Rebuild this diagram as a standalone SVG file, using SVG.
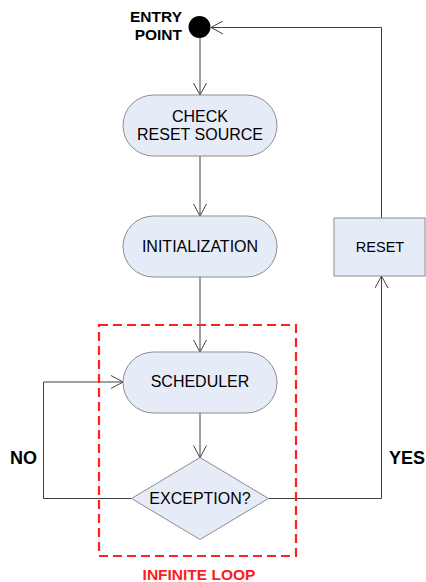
<svg xmlns="http://www.w3.org/2000/svg" width="426" height="582" viewBox="0 0 426 582">
<style>
text{font-family:"Liberation Sans",Arial,sans-serif;fill:#000}
.n{fill:#E6ECF7;stroke:#8C8C8C;stroke-width:1}
.lbl{font-size:16px;text-anchor:middle}
.b{font-weight:bold}
.c{fill:none;stroke:#404040;stroke-width:1}
</style>
<defs>
<marker id="arr" viewBox="0 0 13 14" refX="12.5" refY="7" markerWidth="13" markerHeight="14" markerUnits="userSpaceOnUse" orient="auto">
<path d="M0.5,0.5 L12.5,7 L0.5,13.5" fill="none" stroke="#404040" stroke-width="1"/>
</marker>
</defs>
<rect width="426" height="582" fill="#fff"/>
<g id="connectors">
<path class="c" d="M200,38 V95" marker-end="url(#arr)"/>
<path class="c" d="M200,156 V216" marker-end="url(#arr)"/>
<path class="c" d="M200,277 V352" marker-end="url(#arr)"/>
<path class="c" d="M200,413 V457.5" marker-end="url(#arr)"/>
<path class="c" d="M131.5,498.5 H43.5 V382 H123" marker-end="url(#arr)"/>
<path class="c" d="M268.5,498.5 H381.5 V276" marker-end="url(#arr)"/>
<path class="c" d="M381.5,218 V27.5 H211" marker-end="url(#arr)"/>
</g>
<g id="entry">
<circle cx="199.5" cy="27" r="11" fill="#000"/>
<text class="b" x="182" y="22" font-size="15.5" text-anchor="end">ENTRY</text>
<text class="b" x="182" y="40" font-size="15.5" text-anchor="end">POINT</text>
</g>
<g id="check">
<rect class="n" x="123" y="95" width="154" height="61" rx="30.5"/>
<text class="lbl" x="200" y="121.5">CHECK</text>
<text class="lbl" x="200" y="140">RESET SOURCE</text>
</g>
<g id="init">
<rect class="n" x="123" y="216" width="154" height="61" rx="30.5"/>
<text class="lbl" x="200" y="252">INITIALIZATION</text>
</g>
<g id="scheduler">
<rect class="n" x="123" y="352" width="154" height="61" rx="30.5"/>
<text class="lbl" x="200" y="387">SCHEDULER</text>
</g>
<g id="exception">
<polygon class="n" points="200,457.5 268.5,498.5 200,539.5 131.5,498.5"/>
<text class="lbl" x="200" y="504">EXCEPTION?</text>
</g>
<g id="reset">
<rect class="n" x="334" y="218" width="91" height="58"/>
<text x="380" y="252" font-size="14.5" text-anchor="middle">RESET</text>
</g>
<g id="loop">
<rect x="99" y="325" width="197" height="231" fill="none" stroke="#FF2020" stroke-width="2.2" stroke-dasharray="9,5"/>
<text class="b" x="199" y="579.5" font-size="15.5" text-anchor="middle" style="fill:#FF1A1A">INFINITE LOOP</text>
</g>
<g id="labels">
<text class="b" x="10" y="463.5" font-size="18">NO</text>
<text class="b" x="389" y="463.5" font-size="18">YES</text>
</g>
</svg>
